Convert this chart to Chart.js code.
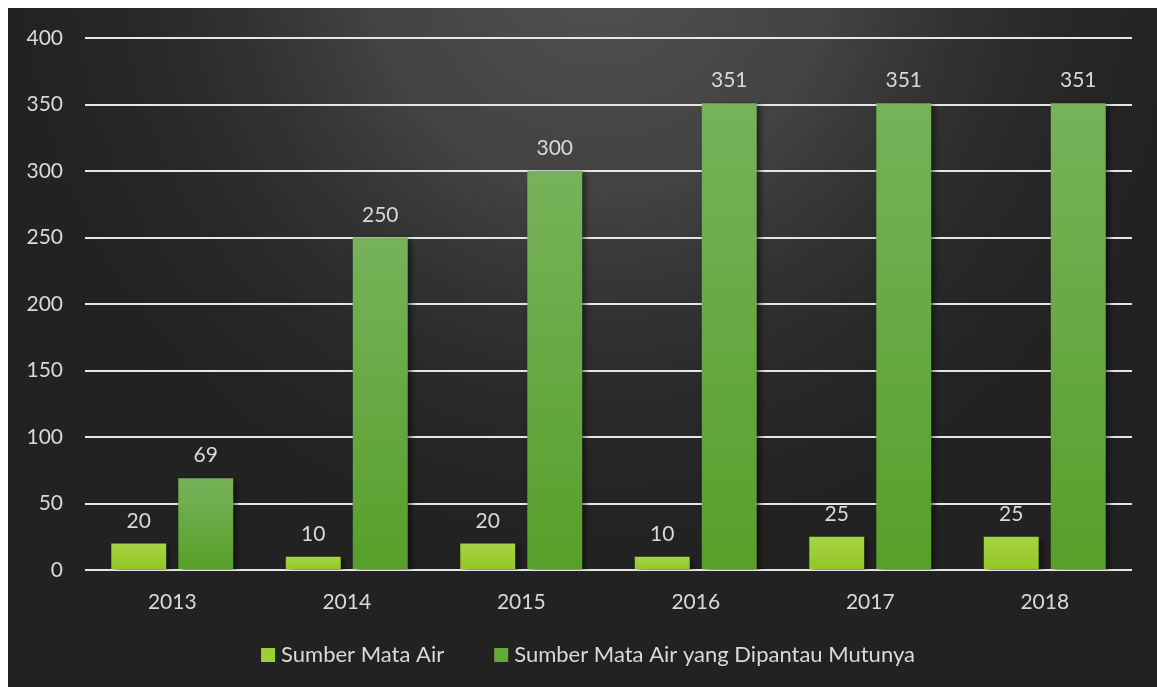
<!DOCTYPE html>
<html>
<head>
<meta charset="utf-8">
<script src="https://cdn.jsdelivr.net/npm/chart.js@4.4.1/dist/chart.umd.min.js"></script>
<style>
  html, body { margin: 0; padding: 0; background: #ffffff; }
  #wrap { position: absolute; left: 0; top: 0; width: 1157px; height: 687px; }
</style>
</head>
<body>
<div id="wrap"><canvas id="chart" width="1157" height="687"></canvas></div>
<script>
// Years on the category axis
const years = ['2013', '2014', '2015', '2016', '2017', '2018'];
// Number of springs per year
const sumberMataAir = [20, 10, 20, 10, 25, 25];
// Springs whose water quality was monitored
const sumberDipantau = [69, 250, 300, 351, 351, 351];
// Value axis ticks
const yTicks = [0, 50, 100, 150, 200, 250, 300, 350, 400];
const seriesNames = ['Sumber Mata Air', 'Sumber Mata Air yang Dipantau Mutunya'];
const seriesSwatch = ['#9ccf33', '#62a83a'];

const FONT = 'Lato, "Open Sans", sans-serif';
const FSIZE = 21;
const KEY_FSIZE = 22;
const TEXT = '#d9d9d9';

// Vertical gradient for each bar, lighter at its top
function barGradient(top, bottom) {
  return function (ctx) {
    const chart = ctx.chart;
    if (!chart.chartArea || ctx.type !== 'data') return bottom;
    const y = chart.scales.y;
    const y0 = y.getPixelForValue(ctx.raw);
    const y1 = y.getPixelForValue(0);
    const g = chart.ctx.createLinearGradient(0, y0, 0, y1 + 0.01);
    g.addColorStop(0, top);
    g.addColorStop(1, bottom);
    return g;
  };
}

// Page frame: white margin, dark panel with soft light at top centre
const panelBackground = {
  id: 'panelBackground',
  beforeDraw(chart) {
    const c = chart.ctx;
    const w = chart.width, h = chart.height;
    c.save();
    c.fillStyle = '#ffffff';
    c.fillRect(0, 0, w, h);
    c.fillStyle = '#222222';
    c.fillRect(8, 8, w - 8, h - 8);
    const rg = c.createRadialGradient(600, -40, 20, 600, -40, 640);
    rg.addColorStop(0, 'rgba(80,80,80,1)');
    rg.addColorStop(0.35, 'rgba(72,72,72,0.85)');
    rg.addColorStop(1, 'rgba(34,34,34,0)');
    c.beginPath();
    c.rect(8, 8, w - 8, h - 8);
    c.clip();
    c.fillStyle = rg;
    c.fillRect(8, 8, w - 8, h - 8);
    c.restore();
  }
};

// Drop shadow behind the bars
const barShadow = {
  id: 'barShadow',
  beforeDatasetsDraw(chart) {
    const c = chart.ctx;
    c.save();
    c.shadowColor = 'rgba(0,0,0,0.55)';
    c.shadowBlur = 6;
    c.shadowOffsetX = 3;
    c.shadowOffsetY = 2;
  },
  afterDatasetsDraw(chart) {
    chart.ctx.restore();
  }
};

// Value labels above each bar
const valueLabels = {
  id: 'valueLabels',
  afterDatasetsDraw(chart) {
    const c = chart.ctx;
    c.save();
    c.fillStyle = TEXT;
    c.font = FSIZE + 'px ' + FONT;
    c.textAlign = 'center';
    c.textBaseline = 'bottom';
    chart.data.datasets.forEach((ds, di) => {
      const meta = chart.getDatasetMeta(di);
      meta.data.forEach((bar, i) => {
        c.fillText(String(ds.data[i]), bar.x, bar.y - 12);
      });
    });
    c.restore();
  }
};

// Series key along the bottom: square swatch, short gap, name
const bottomKey = {
  id: 'bottomKey',
  afterDraw(chart) {
    const c = chart.ctx;
    const box = 14, textGap = 6, itemGap = 50, cy = 655, cx = 588;
    c.save();
    c.font = KEY_FSIZE + 'px ' + FONT;
    c.textBaseline = 'middle';
    c.textAlign = 'left';
    const widths = seriesNames.map(n => c.measureText(n).width);
    let total = 0;
    widths.forEach((w, i) => { total += box + textGap + w + (i ? itemGap : 0); });
    let x = cx - total / 2;
    seriesNames.forEach((name, i) => {
      c.fillStyle = seriesSwatch[i];
      c.fillRect(x, cy - box / 2, box, box);
      c.fillStyle = TEXT;
      c.fillText(name, x + box + textGap, cy);
      x += box + textGap + widths[i] + itemGap;
    });
    c.restore();
  }
};

new Chart(document.getElementById('chart'), {
  type: 'bar',
  data: {
    labels: years,
    datasets: [
      {
        label: seriesNames[0],
        data: sumberMataAir,
        backgroundColor: barGradient('#a6d443', '#93c626'),
        borderWidth: 0
      },
      {
        label: seriesNames[1],
        data: sumberDipantau,
        backgroundColor: barGradient('#77b25a', '#579f2a'),
        borderWidth: 0
      }
    ]
  },
  options: {
    responsive: false,
    animation: false,
    devicePixelRatio: 1,
    layout: { padding: { left: 8, right: 25, top: 38, bottom: 67 } },
    datasets: { bar: { categoryPercentage: 0.768, barPercentage: 0.82 } },
    scales: {
      x: {
        grid: { display: false, drawTicks: false },
        border: { display: false },
        ticks: { color: TEXT, font: { family: FONT, size: FSIZE }, padding: 20 },
        afterFit(s) { s.height = 50; }
      },
      y: {
        min: 0, max: 400,
        afterBuildTicks(s) { s.ticks = yTicks.map(v => ({ value: v })); },
        grid: { color: '#e6e6e6', lineWidth: 2, drawTicks: false },
        border: { display: false },
        ticks: { color: TEXT, font: { family: FONT, size: FSIZE }, padding: 22 },
        afterFit(s) { s.width = 77; }
      }
    },
    plugins: {
      legend: { display: false },
      tooltip: { enabled: false }
    }
  },
  plugins: [panelBackground, barShadow, valueLabels, bottomKey]
});
</script>
</body>
</html>
